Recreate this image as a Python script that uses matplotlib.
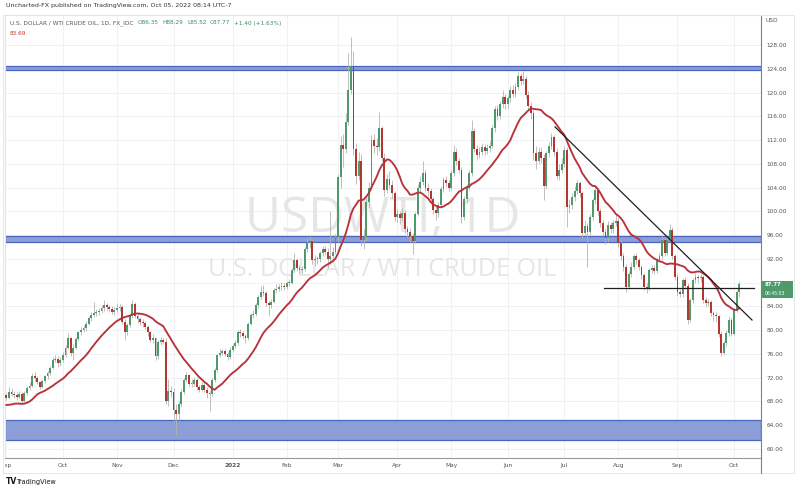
# -*- coding: utf-8 -*-
import matplotlib as mpl
mpl.use('Agg')
import matplotlib.pyplot as plt
from matplotlib.patches import Rectangle
from matplotlib.lines import Line2D
import numpy as np
import pandas as pd

# daily USD/WTI bars (weekdays), Sep 1 2021 .. Oct 5 2022
dates = pd.bdate_range('2021-09-01', '2022-10-05')

close = [68.6, 69.6, 69.3, 69.0, 68.8, 69.2, 68.1, 69.4, 70.2, 70.6,
         72.2, 72.0, 71.2, 70.5, 71.4, 72.2, 72.8, 73.7, 75.0, 75.2,
         74.4, 75.0, 75.8, 77.0, 78.6, 76.2, 77.0, 78.5, 79.6, 80.0,
         80.3, 81.1, 82.0, 82.6, 82.8, 83.0, 83.3, 83.7, 84.2, 83.9,
         83.6, 83.1, 83.4, 83.7, 83.9, 81.4, 79.6, 80.8, 82.3, 84.4,
         82.4, 81.8, 81.4, 81.2, 80.6, 79.6, 78.4, 78.6, 75.6, 78.0,
         78.3, 78.0, 68.0, 69.8, 69.6, 66.5, 65.8, 67.5, 69.5, 71.6,
         72.4, 71.0, 71.0, 71.6, 70.4, 70.0, 70.8, 70.0, 69.4, 69.2,
         71.6, 73.3, 75.8, 76.2, 76.4, 76.0, 75.4, 76.7, 77.4, 77.8,
         79.7, 79.5, 79.0, 78.6, 81.1, 82.5, 82.7, 84.2, 85.6, 86.5,
         86.3, 84.5, 84.2, 84.8, 86.8, 87.0, 87.3, 87.5, 87.2, 87.9,
         88.0, 90.1, 91.8, 90.5, 90.1, 90.3, 93.7, 94.6, 95.0, 91.8,
         92.0, 91.9, 93.0, 93.7, 93.2, 92.0, 92.4, 93.2, 95.7, 105.8,
         111.2, 110.5, 115.0, 120.4, 124.5, 110.5, 106.0, 108.5, 95.2, 95.6,
         101.5, 104.0, 112.0, 111.0, 110.8, 114.0, 109.0, 103.6, 105.5, 104.5,
         103.0, 99.1, 99.5, 98.8, 99.8, 97.0, 96.5, 95.8, 95.0, 99.5,
         104.0, 105.0, 106.4, 104.0, 103.5, 102.0, 100.3, 99.8, 101.0, 103.8,
         105.3, 104.8, 104.0, 106.5, 110.0, 108.5, 107.0, 99.1, 102.0, 104.0,
         106.5, 113.5, 110.5, 109.5, 110.0, 110.8, 110.2, 110.6, 111.0, 114.0,
         117.2, 116.0, 118.0, 119.3, 118.0, 119.0, 120.5, 119.8, 121.0, 122.7,
         122.0, 122.3, 119.5, 117.8, 116.5, 109.8, 108.5, 110.0, 109.0, 104.2,
         109.8, 111.0, 112.5, 110.0, 106.0, 107.0, 108.0, 110.3, 100.8, 101.0,
         102.4, 103.5, 104.8, 103.0, 96.3, 97.5, 96.5, 99.1, 101.9, 103.6,
         100.0, 98.0, 96.5, 95.5, 97.7, 97.0, 98.0, 98.4, 94.6, 92.4,
         90.7, 87.3, 89.5, 90.7, 92.4, 91.8, 90.7, 89.2, 87.3, 87.0,
         90.1, 90.4, 90.0, 91.8, 92.4, 95.2, 93.0, 95.2, 96.9, 92.4,
         89.0, 86.5, 86.0, 88.4, 87.5, 81.7, 85.0, 88.4, 89.0, 88.7,
         89.0, 85.0, 84.6, 84.8, 82.8, 82.5, 82.3, 79.4, 76.1, 77.8,
         79.5, 81.7, 79.4, 83.4, 86.37, 87.77]

high = [69.4, 70.5, 70.2, 69.8, 69.5, 69.7, 69.5, 69.8, 70.6, 71.2,
        72.8, 72.9, 72.3, 71.5, 71.8, 72.5, 73.2, 74.0, 75.5, 75.8,
        75.6, 75.4, 76.3, 77.5, 79.5, 78.9, 77.6, 78.8, 79.9, 80.6,
        80.8, 81.5, 82.4, 83.1, 84.8, 83.6, 83.8, 84.2, 85.1, 84.6,
        84.3, 84.0, 83.9, 84.6, 84.4, 84.2, 81.8, 81.2, 82.6, 85.0,
        84.8, 82.8, 82.2, 81.8, 81.6, 80.9, 79.9, 79.3, 78.9, 78.3,
        78.9, 78.6, 78.6, 71.8, 70.6, 70.2, 67.5, 68.0, 70.1, 72.0,
        72.9, 72.6, 71.8, 72.1, 71.9, 70.8, 71.3, 71.1, 70.5, 70.0,
        71.9, 73.6, 76.0, 76.8, 76.9, 76.8, 76.3, 77.1, 77.7, 78.3,
        80.1, 80.2, 79.9, 79.3, 81.4, 82.9, 83.4, 84.6, 85.9, 87.4,
        87.6, 86.6, 84.9, 85.2, 87.1, 87.8, 87.7, 88.1, 87.9, 88.3,
        88.6, 90.5, 93.0, 92.2, 91.0, 90.8, 94.0, 95.7, 95.8, 95.3,
        92.6, 92.5, 93.4, 94.2, 94.1, 93.8, 100.0, 94.0, 96.2, 106.3,
        112.6, 113.0, 116.6, 126.6, 129.4, 127.0, 111.5, 110.0, 109.6, 97.0,
        102.2, 105.0, 112.8, 113.0, 112.4, 116.8, 114.4, 109.8, 106.2, 106.8,
        105.2, 103.5, 100.4, 100.1, 100.6, 100.2, 97.6, 97.2, 96.4, 99.9,
        104.6, 106.0, 108.5, 106.9, 104.8, 104.0, 102.4, 101.0, 101.6, 104.3,
        105.8, 105.9, 105.2, 107.0, 111.2, 110.6, 108.9, 107.5, 102.5, 104.6,
        107.0, 115.4, 114.0, 111.2, 110.8, 111.5, 111.3, 111.4, 111.8, 114.5,
        117.8, 117.9, 118.6, 120.5, 119.8, 119.6, 121.1, 121.2, 121.6, 123.5,
        123.3, 123.6, 122.8, 120.2, 118.4, 117.0, 111.0, 110.8, 110.9, 109.6,
        110.2, 111.6, 113.2, 112.9, 110.6, 107.9, 108.9, 111.0, 110.8, 102.0,
        103.0, 104.2, 105.3, 105.1, 103.4, 98.5, 98.0, 99.6, 102.3, 104.2,
        104.0, 100.6, 98.6, 97.1, 98.3, 98.2, 98.6, 99.5, 98.9, 95.2,
        92.9, 91.2, 89.9, 91.4, 92.8, 93.0, 92.2, 91.0, 89.6, 88.0,
        90.5, 91.0, 90.9, 92.2, 93.0, 95.8, 95.5, 95.6, 97.8, 97.4,
        92.8, 89.4, 87.0, 88.8, 88.9, 87.9, 85.4, 88.8, 89.6, 89.3,
        89.5, 89.3, 85.6, 85.3, 85.1, 83.3, 83.0, 82.6, 79.8, 78.2,
        80.1, 82.3, 82.0, 83.8, 86.8, 88.29]

low = [68.2, 68.4, 68.9, 68.6, 68.3, 68.6, 67.7, 67.9, 69.1, 69.9,
       70.4, 71.4, 70.9, 70.1, 70.2, 71.1, 71.8, 72.5, 73.5, 74.6,
       73.8, 74.0, 74.7, 75.4, 76.8, 75.6, 75.0, 76.8, 78.2, 79.2,
       79.6, 79.9, 80.8, 81.6, 82.2, 82.3, 82.5, 82.8, 83.2, 83.4,
       83.1, 82.7, 82.6, 83.0, 83.3, 81.0, 78.3, 79.2, 80.5, 82.0,
       82.0, 81.2, 80.8, 80.6, 80.2, 79.0, 78.0, 77.8, 75.0, 75.2,
       77.5, 77.6, 67.5, 67.2, 68.8, 64.7, 62.4, 64.9, 67.0, 69.2,
       71.2, 70.6, 70.5, 70.6, 70.0, 69.6, 69.7, 69.6, 68.6, 66.3,
       68.9, 71.2, 73.0, 75.4, 75.8, 75.6, 74.9, 75.1, 76.3, 77.0,
       77.5, 78.9, 78.5, 77.9, 78.3, 80.8, 82.0, 82.4, 83.8, 85.3,
       85.8, 84.0, 82.3, 83.7, 84.5, 86.3, 86.6, 86.8, 86.7, 86.9,
       87.4, 87.7, 89.8, 90.0, 89.5, 89.6, 90.0, 93.2, 93.9, 91.2,
       90.8, 91.2, 91.4, 92.5, 92.6, 90.5, 91.2, 91.6, 92.8, 94.8,
       104.0, 107.5, 109.8, 114.5, 119.8, 109.5, 104.6, 105.2, 94.2, 93.6,
       95.0, 100.8, 103.6, 109.8, 109.5, 110.2, 108.4, 102.5, 103.0, 103.8,
       102.2, 98.4, 98.2, 97.8, 98.3, 96.4, 95.6, 94.8, 92.8, 94.6,
       99.2, 103.2, 104.5, 103.4, 102.6, 101.4, 99.6, 98.5, 99.1, 100.5,
       103.2, 104.1, 103.4, 103.6, 106.0, 107.8, 106.4, 98.0, 98.6, 101.4,
       103.6, 106.0, 110.0, 108.6, 108.9, 109.4, 109.5, 109.6, 110.0, 110.6,
       113.4, 115.3, 115.5, 117.4, 117.3, 117.4, 118.4, 119.2, 119.3, 120.5,
       121.3, 121.4, 119.0, 117.0, 115.6, 108.6, 107.2, 107.9, 108.2, 101.9,
       103.8, 109.2, 110.5, 109.3, 105.4, 105.2, 106.4, 107.4, 97.4, 99.8,
       100.4, 101.8, 102.9, 102.4, 95.5, 95.8, 90.7, 96.0, 98.6, 101.3,
       99.4, 97.3, 95.9, 94.5, 94.9, 96.3, 96.4, 97.5, 94.0, 91.8,
       90.0, 86.5, 86.9, 89.0, 90.3, 91.2, 90.1, 88.6, 86.8, 86.2,
       86.7, 89.6, 89.4, 89.6, 91.4, 92.0, 92.5, 92.7, 94.8, 92.0,
       88.4, 85.7, 85.5, 85.6, 86.9, 81.0, 81.3, 84.6, 87.9, 88.0,
       88.1, 84.5, 83.9, 84.1, 82.3, 81.6, 81.4, 78.9, 75.6, 75.8,
       77.4, 79.0, 79.0, 79.2, 83.1, 85.52]

open0 = 69.0
# closes of late Aug 2021 (left of the chart), only seed the 20-day average
seed_close = [69.1, 68.3, 66.5, 68.3, 69.3, 69.1, 68.4, 67.3, 66.6, 65.5,
              63.5, 62.3, 65.6, 67.5, 68.4, 67.4, 68.7, 69.2, 68.5]

zones = [(123.8, 124.5), (94.8, 95.8), (61.5, 64.9)]
trend_bar = [213.4, 290.0]
trend_px = [114.2, 81.7]
neck_bar = [232.4, 290.8]
neck_px = [87.1, 87.1]

month_lbl = ['Sep', 'Oct', 'Nov', 'Dec', '2022', 'Feb', 'Mar', 'Apr',
             'May', 'Jun', 'Jul', 'Aug', 'Sep', 'Oct']
price_ticks = np.arange(60, 129, 4)
last_price = '87.77'
countdown = '06:45:03'

GREEN = '#4f9a6c'
RED = '#b5352f'
WICK = '#b4b4b4'
MA_C = '#b8323a'
ZONE = '#8c9ed6'
ZONE_EDGE = '#4b64bd'
GRID = '#eff1f4'
TXT = '#555555'

W, H = 800, 492
fig = plt.figure(figsize=(8, 4.92), dpi=100)
renderer = fig.canvas.get_renderer()


def rect(x0, y0, x1, y1):
    return [x0 / W, 1 - y1 / H, (x1 - x0) / W, (y1 - y0) / H]


def fit(t, width):
    bb = t.get_window_extent(renderer)
    t.set_fontsize(t.get_fontsize() * width / bb.width)


ax = fig.add_axes(rect(5, 15, 761, 458))
ax.set_xlim(-0.54, 293.5)
ax.set_ylim(58.47, 133.05)

x = np.arange(len(close))
c = np.array(close)
o = np.r_[open0, c[:-1]]
up = c >= o

mpos = [0] + [i for i in range(1, len(dates)) if dates[i].month != dates[i - 1].month]

for p in price_ticks:
    ax.axhline(p, color=GRID, lw=0.7, zorder=0)
for m in mpos[1:]:
    ax.axvline(m, color=GRID, lw=0.7, zorder=0)

for lo, hi in zones:
    ax.axhspan(lo, hi, facecolor=ZONE, edgecolor=ZONE_EDGE, lw=0.9, zorder=1)

ax.vlines(x, low, high, colors=WICK, lw=0.6, zorder=2)
body = c - o
body = np.where(np.abs(body) < 0.15, 0.15, body)
ax.bar(x[up], body[up], bottom=o[up], width=0.72, color=GREEN, lw=0, zorder=3)
ax.bar(x[~up], body[~up], bottom=o[~up], width=0.72, color=RED, lw=0, zorder=3)

ma = pd.Series(seed_close + close).rolling(20).mean().to_numpy()[len(seed_close):]
ax.plot(x, ma, color=MA_C, lw=1.35, zorder=4)

ax.plot(trend_bar, trend_px, color='#1e1e1e', lw=0.9, zorder=5)
ax.plot(neck_bar, neck_px, color='#1e1e1e', lw=0.9, zorder=5)

wm1 = ax.text(0.499, 0.510, 'USDWTI, 1D', transform=ax.transAxes, ha='center',
              va='baseline', fontsize=40, color='#e6e6e6', family='Open Sans', zorder=0.5)
wm2 = ax.text(0.499, 0.411, 'U.S. DOLLAR / WTI CRUDE OIL', transform=ax.transAxes,
              ha='center', va='baseline', fontsize=20, color='#e6e6e6',
              family='Open Sans', zorder=0.5)
fit(wm1, 275)
fit(wm2, 348)

for s in ['top', 'left']:
    ax.spines[s].set_color('#e0e3eb')
    ax.spines[s].set_linewidth(0.8)
ax.spines['right'].set_color('#808080')
ax.spines['bottom'].set_color('#9a9a9a')
ax.spines['right'].set_linewidth(0.8)
ax.spines['bottom'].set_linewidth(0.8)

# the 88.00 label sits under the last-price box, so it is left blank
ax.yaxis.tick_right()
ax.set_yticks(price_ticks)
ax.set_yticklabels(['' if p == 88 else '%.2f' % p for p in price_ticks])
ax.tick_params(axis='y', length=0, pad=4, labelsize=4.2, labelcolor=TXT)
ax.set_xticks([])

# time axis strip
tax = fig.add_axes(rect(5, 458, 761, 473))
tax.set_xlim(ax.get_xlim())
tax.set_ylim(0, 1)
tax.axis('off')
for m, lbl in zip(mpos, month_lbl):
    tax.text(m, 0.5, lbl, ha='center', va='center', fontsize=4.2, color=TXT,
             clip_on=True, fontweight='bold' if lbl == '2022' else 'normal')

fig.add_artist(Line2D([761 / W, 761 / W], [1 - 473 / H, 1 - 458 / H], color='#808080', lw=0.8))
fig.add_artist(Rectangle((3 / W, 1 - 473 / H), 791 / W, 458 / H, transform=fig.transFigure,
                         fill=False, edgecolor='#e6e6e6', lw=0.7))

# header and legend
hd = fig.text(6 / W, 1 - 6 / H, 'Uncharted-FX published on TradingView.com, Oct 05, 2022 08:14 UTC-7',
              va='center', fontsize=5, color='#333333')
fit(hd, 227)
lg = fig.text(10 / W, 1 - 23 / H, 'U.S. DOLLAR / WTI CRUDE OIL, 1D, FX_IDC',
              va='center', fontsize=5, color=TXT)
fit(lg, 123)
fs = lg.get_fontsize()
for px, s in [(138, 'O86.35'), (162, 'H88.29'), (187, 'L85.52'), (210, 'C87.77'),
              (234, '+1.40 (+1.63%)')]:
    fig.text(px / W, 1 - 23 / H, s, va='center', fontsize=fs, color='#3d8c5c')
fig.text(10 / W, 1 - 33 / H, '83.69', va='center', fontsize=fs, color='#c0392b')
fig.text(766 / W, 1 - 21 / H, 'USD', va='center', fontsize=4.2, color=TXT)

# last price box
fig.add_artist(Rectangle((762 / W, 1 - 298 / H), 31 / W, 17 / H, transform=fig.transFigure,
                         facecolor='#4f9a6c', edgecolor='none'))
fig.text(765 / W, 1 - 285 / H, last_price, va='center', fontsize=3.8, color='white',
         fontweight='bold')
fig.text(765 / W, 1 - 293.5 / H, countdown, va='center', fontsize=3.3, color='white')

# logo
fig.text(6 / W, 1 - 482 / H, 'TV', va='center', fontsize=5.5, color='#131722', fontweight='bold')
tv = fig.text(16 / W, 1 - 482 / H, 'TradingView', va='center', fontsize=5, color='#131722')
fit(tv, 40)

fig.savefig('out.png', dpi=100)
